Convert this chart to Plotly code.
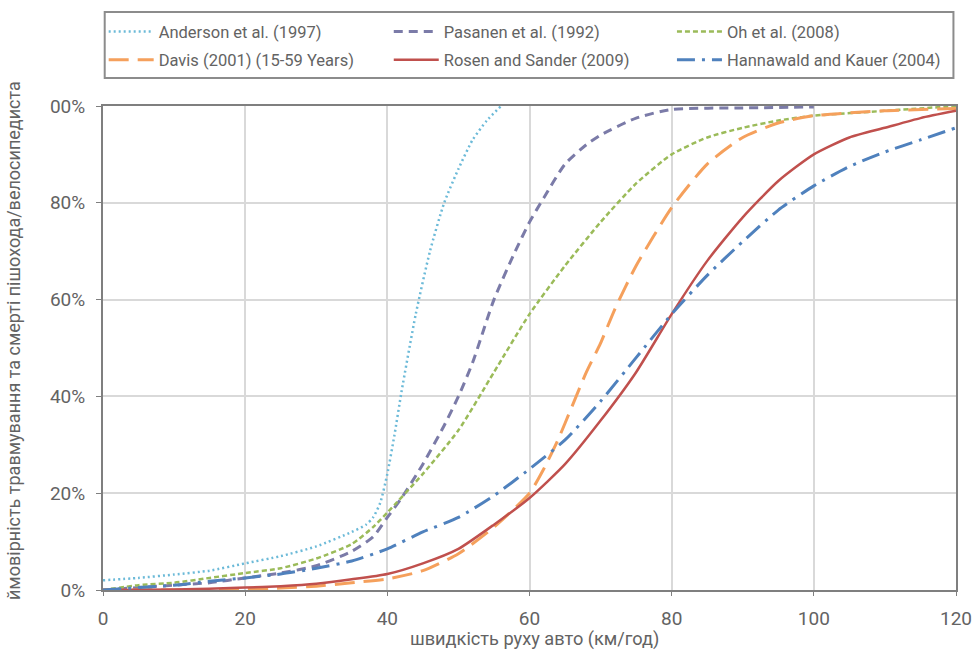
import plotly.graph_objects as go

# ---- data (speed km/h, probability %) ----
anderson_x = [0, 5, 10, 15, 20, 25, 30, 35, 37, 38, 39, 40, 41, 42, 44, 46, 48, 50, 52, 54, 56]
anderson_y = [2, 2.5, 3.2, 4, 5.5, 7, 9, 12, 13.5, 15, 18, 24, 32, 41, 57, 70, 80, 87, 93, 97, 100]

pasanen_x = [0, 5, 10, 15, 20, 25, 30, 35, 38, 40, 42, 45, 48, 50, 52, 55, 58, 60, 62, 65, 68, 70, 75, 80, 90, 100]
pasanen_y = [0, 0.5, 1, 1.5, 2.5, 3.5, 5, 8, 11, 15, 19, 26, 34, 40, 47, 60, 70, 76, 81, 88, 92, 94, 97.5, 99.3, 99.6, 99.8]

oh_x = [0, 5, 10, 15, 20, 25, 30, 35, 38, 40, 45, 50, 55, 60, 65, 70, 75, 80, 85, 90, 95, 100, 110, 120]
oh_y = [0, 1, 1.5, 2.5, 3.5, 4.5, 6.5, 9.5, 13, 16, 24, 33, 45, 57, 67, 76, 84, 90, 93.5, 95.5, 97, 98, 99, 100]

davis_x = [0, 10, 20, 25, 30, 35, 40, 45, 50, 55, 60, 62, 64, 66, 68, 70, 72, 75, 80, 85, 90, 95, 100, 110, 120]
davis_y = [0, 0, 0.2, 0.4, 0.8, 1.5, 2.3, 4, 7.5, 13, 20, 25, 31, 38, 45, 51, 58, 67, 79, 88, 93.5, 96.5, 98, 99, 99.5]

rosen_x = [0, 10, 20, 25, 30, 35, 40, 45, 50, 55, 60, 65, 70, 75, 80, 85, 90, 95, 100, 105, 110, 115, 120]
rosen_y = [0, 0.1, 0.5, 0.8, 1.3, 2.2, 3.3, 5.5, 8.5, 13.5, 19, 26, 35, 45, 57, 68, 77, 84.5, 90, 93.5, 95.5, 97.5, 99]

hannawald_x = [0, 5, 10, 15, 20, 25, 30, 35, 40, 45, 50, 55, 60, 65, 70, 75, 80, 85, 90, 95, 100, 105, 110, 115, 120]
hannawald_y = [0, 0.5, 1, 1.8, 2.5, 3.3, 4.5, 6, 8.5, 12, 15, 19.5, 25, 31, 39, 48, 57, 65, 72, 78.5, 83.5, 87.5, 90.5, 93, 95.5]

series_names = ["Anderson et al. (1997)", "Pasanen et al. (1992)", "Oh et al. (2008)",
                "Davis (2001) (15-59 Years)", "Rosen and Sander (2009)", "Hannawald and Kauer (2004)"]

x_ticks = [0, 20, 40, 60, 80, 100, 120]
y_ticks = [0, 20, 40, 60, 80, 100]
y_ticktext = ["0%", "20%", "40%", "60%", "80%", "00%"]

x_title = "швидкість руху авто (км/год)"
y_title = "ймовірність травмування та смерті пішохода/велосипедиста"

FONT = "Roboto, Liberation Sans, sans-serif"
TXT = "#636363"

styles = [
    dict(color="#6cbad8", dash="2px,3px", width=2.5),
    dict(color="#7b7ba8", dash="9px,6px", width=3),
    dict(color="#9bbb59", dash="5px,3px", width=2.5),
    dict(color="#f5a05c", dash="20px,9px", width=3),
    dict(color="#c0504d", dash="solid", width=2.5),
    dict(color="#4f81bd", dash="18px,7px,3px,7px", width=3),
]
data = [(anderson_x, anderson_y), (pasanen_x, pasanen_y), (oh_x, oh_y),
        (davis_x, davis_y), (rosen_x, rosen_y), (hannawald_x, hannawald_y)]

legend_ids = ["legend", "legend2", "legend3", "legend4", "legend5", "legend6"]
# legend slot positions (paper coords relative to plot area)
col_x = [0.0008, 0.335, 0.667]
row_y = [1.1535, 1.095]

fig = go.Figure()
for i, ((xs, ys), name, st) in enumerate(zip(data, series_names, styles)):
    fig.add_trace(go.Scatter(x=xs, y=ys, mode="lines", name=name, legend=legend_ids[i],
                             line=dict(color=st["color"], dash=st["dash"], width=st["width"],
                                       shape="spline", smoothing=0.6)))

legend_layout = {}
for i, lid in enumerate(legend_ids):
    legend_layout[lid] = dict(x=col_x[i % 3], xanchor="left", y=row_y[i // 3], yanchor="middle",
                              bgcolor="rgba(0,0,0,0)", borderwidth=0, itemwidth=45,
                              font=dict(size=16.5, color=TXT, family=FONT))

fig.update_layout(
    width=976, height=652,
    margin=dict(l=103, r=20, t=106, b=62, autoexpand=False),
    paper_bgcolor="white", plot_bgcolor="white",
    font=dict(family=FONT, color=TXT, size=19),
    showlegend=True,
    xaxis=dict(range=[0, 120], tickvals=x_ticks, showgrid=True, gridcolor="#d9d9d9", gridwidth=1.5,
               showline=True, linecolor="#7f7f7f", linewidth=2, mirror=True,
               ticks="outside", ticklen=4, tickcolor="#7f7f7f", zeroline=False,
               ticklabelstandoff=6, automargin=False,
               tickfont=dict(size=19, color=TXT)),
    yaxis=dict(range=[0, 100], tickvals=y_ticks, ticktext=y_ticktext, showgrid=True, gridcolor="#d9d9d9",
               gridwidth=1.5, showline=True, linecolor="#7f7f7f", linewidth=2, mirror=True,
               ticks="outside", ticklen=5, tickcolor="#7f7f7f", zeroline=False,
               ticklabelstandoff=7, automargin=False,
               tickfont=dict(size=19, color=TXT)),
    shapes=[dict(type="rect", xref="paper", yref="paper", x0=0.002, x1=0.997, y0=1.0579, y1=1.1942,
                 line=dict(color="#8c8c8c", width=2), fillcolor="rgba(0,0,0,0)", layer="above")],
    annotations=[
        dict(text=x_title, xref="paper", yref="paper", x=0.5064, y=-0.1015, xanchor="center",
             yanchor="middle", showarrow=False, font=dict(size=18.2, color=TXT, family=FONT)),
        dict(text=y_title, xref="paper", yref="paper", x=-0.1043, y=0.5145, xanchor="center",
             yanchor="middle", textangle=-90, showarrow=False, font=dict(size=18, color=TXT, family=FONT)),
    ],
    **legend_layout,
)

fig.write_html("out.html", config={"displayModeBar": False},
               post_script="document.body.style.margin='0';document.body.style.overflow='hidden';")
